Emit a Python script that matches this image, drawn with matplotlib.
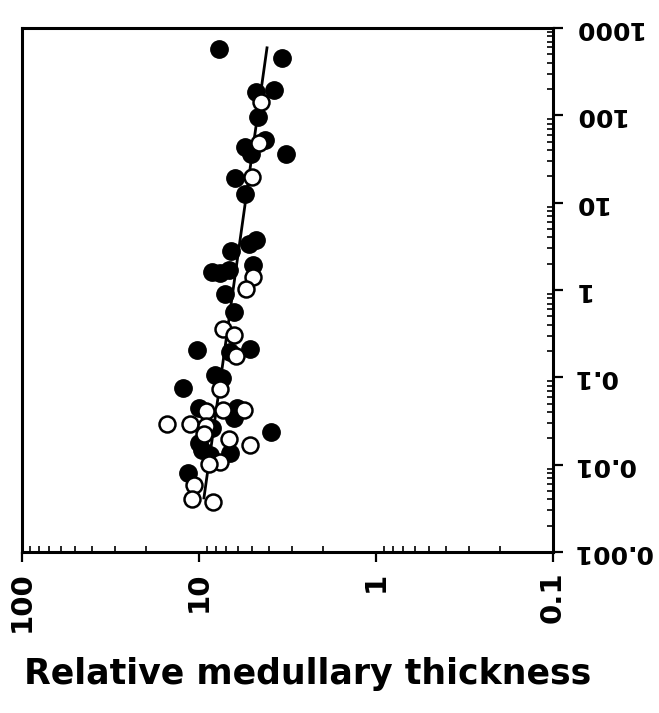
"""Relative medullary thickness vs. a log-scaled quantity (rotated figure)."""

import matplotlib
matplotlib.use("Agg")
import matplotlib.pyplot as plt
from matplotlib.ticker import LogLocator, NullFormatter

plt.rcParams.update({
    "font.family": "DejaVu Sans",
    "font.weight": "bold",
    "figure.facecolor": "white",
    "axes.facecolor": "white",
})

# ----- data
# filled circles: x = relative medullary thickness, y = right-axis value
filled_x = [7.71, 3.40, 4.76, 3.77, 4.64, 5.50, 4.24, 3.22, 5.08, 6.26,
            5.50, 4.76, 5.22, 6.59, 8.45, 6.78, 7.60, 4.96, 7.13, 6.34,
            10.3, 5.15, 6.68, 7.41, 12.3, 10.0, 6.10, 6.34, 9.62, 6.68,
            10.0, 3.92, 11.5, 8.13, 8.45, 8.67]
filled_y = [578, 456, 186, 196, 96, 43.6, 52.4, 36.2, 36.2, 19.2,
            12.6, 3.75, 3.37, 2.81, 1.61, 1.70, 1.57, 1.94, 0.90, 0.561,
            0.206, 0.211, 0.195, 0.0984, 0.0757, 0.0447, 0.0447, 0.0343, 0.0147, 0.0136,
            0.0178, 0.0237, 0.0080, 0.107, 0.0263, 0.0129]

# open circles
open_x = [4.47, 4.58, 5.02, 4.96, 5.42, 7.31, 6.34, 6.18, 7.60, 9.12,
          7.31, 5.57, 15.2, 11.2, 9.12, 6.78, 5.15, 7.60, 8.79, 10.7,
          11.0, 8.34, 9.38]
open_y = [143, 48.4, 19.8, 1.41, 1.03, 0.358, 0.306, 0.176, 0.0736, 0.0412,
          0.0424, 0.0424, 0.0292, 0.0292, 0.0277, 0.0197, 0.0168, 0.0107, 0.0102, 0.00585,
          0.00405, 0.00374, 0.0225]

# fitted line end points
line_x = [9.38, 4.13]
line_y = [0.00416, 593]

x_ticks = [100, 10, 1, 0.1]
x_ticklabels = ["100", "10", "1", "0.1"]
y_ticks = [0.001, 0.01, 0.1, 1, 10, 100, 1000]
y_ticklabels = ["0.001", "0.01", "0.1", "1", "10", "100", "1000"]

# ----- figure
fig = plt.figure(figsize=(6.59, 7.13), dpi=100)
ax = fig.add_axes([0.0334, 0.2258, 0.8058, 0.7349])

ax.set_xscale("log")
ax.set_yscale("log")
ax.set_xlim(100, 0.1)
ax.set_ylim(0.001, 1000)

ax.plot(line_x, line_y, color="black", linewidth=2.0, zorder=2)
ax.plot(filled_x, filled_y, "o", color="black", markersize=12.5, zorder=3)
ax.plot(open_x, open_y, "o", markerfacecolor="white", markeredgecolor="black",
        markeredgewidth=1.8, markersize=11.5, zorder=4)

for s in ax.spines.values():
    s.set_linewidth(2.2)

ax.yaxis.tick_right()
ax.set_xticks(x_ticks)
ax.set_xticklabels(x_ticklabels, rotation=90, fontsize=21, fontweight="bold")
ax.set_yticks(y_ticks)
ax.set_yticklabels(y_ticklabels, rotation=180, fontsize=18, fontweight="bold",
                   va="center")

ax.xaxis.set_minor_locator(LogLocator(base=10, subs=range(2, 10), numticks=20))
ax.yaxis.set_minor_locator(LogLocator(base=10, subs=range(2, 10), numticks=20))
ax.xaxis.set_minor_formatter(NullFormatter())
ax.yaxis.set_minor_formatter(NullFormatter())

ax.tick_params(which="major", direction="out", length=7, width=1.6, pad=7)
ax.tick_params(which="minor", direction="in", length=4.5, width=1.2)
ax.tick_params(axis="y", which="both", left=False, right=True)
ax.tick_params(axis="x", which="both", top=False, bottom=True)

ax.set_xlabel("Relative medullary thickness", fontsize=25, fontweight="bold",
              labelpad=18)
ax.xaxis.label.set_x(0.537)

fig.savefig("out.png", dpi=100)
